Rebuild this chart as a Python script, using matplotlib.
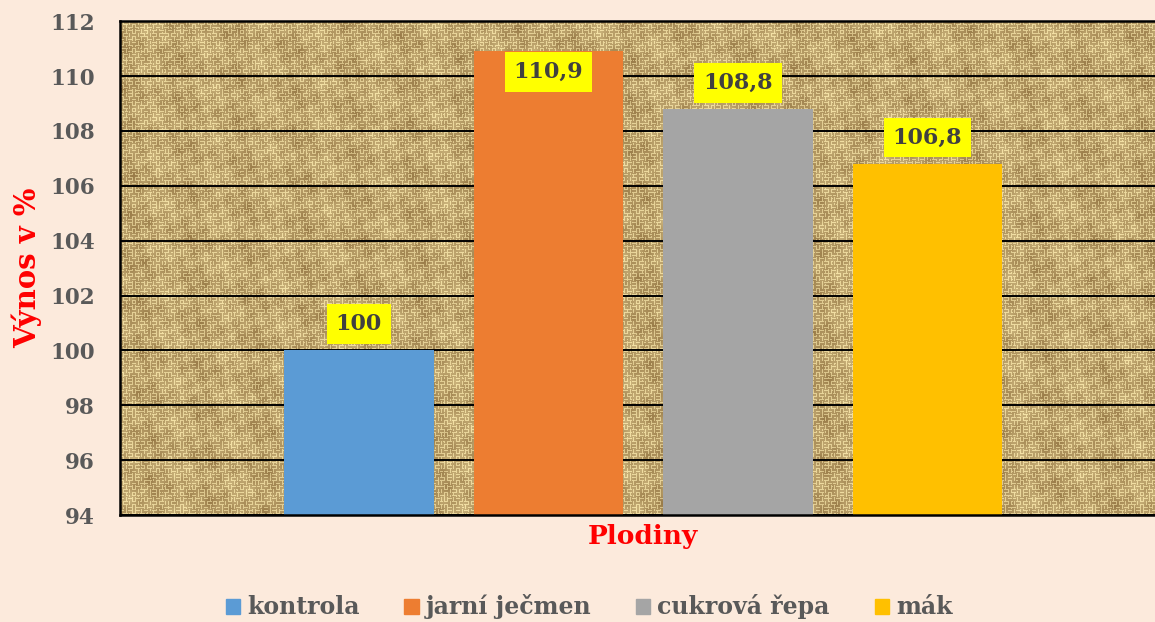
import numpy as np
import matplotlib
matplotlib.use('Agg')
import matplotlib.pyplot as plt

# data
plodiny = ['kontrola', 'jarní ječmen', 'cukrová řepa', 'mák']
vynos = [100, 110.9, 108.8, 106.8]
popisky = ['100', '110,9', '108,8', '106,8']
barvy = ['#5B9BD5', '#ED7D31', '#A5A5A5', '#FFC000']
y_ticks = [94, 96, 98, 100, 102, 104, 106, 108, 110, 112]

plt.rcParams['font.family'] = ['DejaVu Serif']
plt.rcParams['font.weight'] = 'bold'

fig = plt.figure(figsize=(11.55, 6.22), dpi=100, facecolor='#FCEADC')
ax = fig.add_axes([0.1039, 0.172, 0.8961, 0.794])


def pytlovina(h, w):
    # deterministic woven texture for the plot background
    yy, xx = np.mgrid[0:h, 0:w]
    posun = (np.sin(xx / 7.3) * np.cos(yy / 5.1) > 0.2).astype(int)
    blok = ((xx // 4) + (yy // 4) + posun) % 2
    vodor = 0.5 + 0.5 * np.cos(2 * np.pi * yy / 3.0)
    svisl = 0.5 + 0.5 * np.cos(2 * np.pi * xx / 3.0)
    vlakno = np.where(blok == 0, vodor, svisl)
    skvrny = 0.5 + 0.25 * np.sin(xx / 3.7 + yy / 9.1) * np.cos(yy / 4.3 - xx / 11.0) \
        + 0.25 * np.sin((xx - yy) / 13.0) * np.sin((xx + 2 * yy) / 29.0)
    t = np.clip(0.6 * vlakno + 0.4 * skvrny, 0, 1) ** 0.7
    tmava = np.array([120, 86, 38]) / 255.0
    svetla = np.array([246, 228, 168]) / 255.0
    return tmava + t[..., None] * (svetla - tmava)


ax.imshow(pytlovina(494, 1035), extent=(-1.26, 4.2, 94, 112),
          aspect='auto', zorder=0, interpolation='bilinear')

x = np.arange(len(plodiny))
ax.bar(x, vynos, width=0.79, bottom=0, color=barvy, zorder=3)

box = dict(boxstyle='square,pad=0.4', fc='#FFFF00', ec='none')
for xi, v, lab in zip(x, vynos, popisky):
    if v > 110:
        ax.annotate(lab, (xi, v), xytext=(0, -7), textcoords='offset points',
                    ha='center', va='top', fontsize=16, color='#404040',
                    bbox=box, zorder=5)
    else:
        ax.annotate(lab, (xi, v), xytext=(0, 11), textcoords='offset points',
                    ha='center', va='bottom', fontsize=16, color='#404040',
                    bbox=box, zorder=5)

ax.set_xlim(-1.26, 4.2)
ax.set_ylim(94, 112)
ax.set_yticks(y_ticks)
ax.set_yticklabels([str(t) for t in y_ticks], fontsize=15.5, color='#595959',
                   fontweight='bold')
ax.tick_params(axis='y', length=0, pad=18)
ax.set_xticks([])
ax.yaxis.grid(True, color='black', linewidth=1.4)
for gl in ax.get_ygridlines():
    gl.set_zorder(1)
for s in ['left', 'bottom', 'top']:
    ax.spines[s].set_color('black')
    ax.spines[s].set_linewidth(1.8)
    ax.spines[s].set_zorder(4)
ax.spines['right'].set_visible(False)

ax.set_ylabel('Výnos v %', fontsize=21, color='red', fontweight='bold',
              labelpad=6)
fig.text(0.557, 0.138, 'Plodiny', fontsize=19, color='red', fontweight='bold',
         ha='center', va='center')

handles = [plt.Rectangle((0, 0), 1, 1, color=c) for c in barvy]
leg = fig.legend(handles, plodiny, loc='lower center', ncol=4,
                 bbox_to_anchor=(0.51, -0.03), frameon=False,
                 handlelength=0.6, handleheight=0.6, handletextpad=0.3,
                 columnspacing=1.9, prop={'size': 17, 'weight': 'bold'})
for t in leg.get_texts():
    t.set_color('#595959')

fig.savefig('out.png', dpi=100, facecolor=fig.get_facecolor())
